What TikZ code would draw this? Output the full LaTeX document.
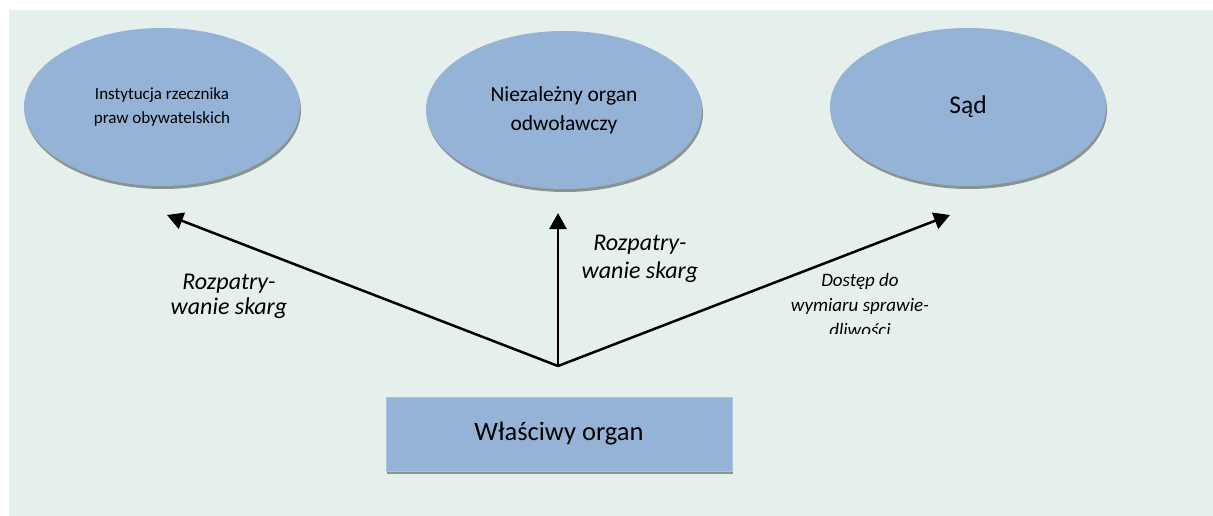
\documentclass[tikz,border=0pt]{standalone}
\usepackage{fontspec}
\setmainfont{Carlito}
\usetikzlibrary{shapes.geometric,arrows.meta,shadows}
\definecolor{tlo}{RGB}{229,239,236}
\definecolor{niebieski}{RGB}{149,179,215}
\definecolor{cien}{RGB}{140,146,142}
\begin{document}
\begin{tikzpicture}[x=1pt,y=-1pt,
    owal/.style={ellipse,fill=niebieski,minimum width=276pt,minimum height=158pt,inner sep=0pt,
        align=center,drop shadow={shadow xshift=1pt,shadow yshift=-3pt,fill=cien,opacity=1}},
    prost/.style={rectangle,fill=niebieski,draw=niebieski!80!white,minimum width=346pt,minimum height=74pt,
        drop shadow={shadow xshift=1pt,shadow yshift=-3pt,fill=cien,opacity=1}},
    strzalka/.style={-{Triangle[length=16pt,width=17pt]},line width=2.5pt},
    opis/.style={align=center,inner sep=0pt,font=\itshape}]
    \useasboundingbox (0,0) rectangle (1213,516);
    \fill[tlo] (9,10) rectangle (1213,516);

    \node (rzecznik) at (162,107) [owal,font=\fontsize{17}{24}\selectfont] {Instytucja rzecznika\\praw obywatelskich};
    \node (odwolawczy) at (564,110) [owal,font=\fontsize{21.5}{29}\selectfont] {Niezależny organ\\odwoławczy};
    \node (sad) at (968,107) [owal,font=\fontsize{25.5}{30}\selectfont] {Sąd};
    \node (wlasciwy) at (559,434) [prost,font=\fontsize{26.5}{30}\selectfont] {Właściwy organ};

    \coordinate (start) at (558,366);
    \coordinate (lewy) at (167,215);
    \coordinate (srodek) at (558,213);
    \coordinate (prawy) at (950,215);

    \draw[strzalka] (start) -- (lewy);
    \draw[strzalka] (start) -- (srodek);
    \draw[strzalka] (start) -- (prawy);

    \node (opis1) at (229,296) [opis,font=\itshape\fontsize{24}{25}\selectfont] {Rozpatry-\\wanie skarg};
    \node (opis2) at (640,259) [opis,font=\itshape\fontsize{24}{28}\selectfont] {Rozpatry-\\wanie skarg};
    \begin{scope}
        \clip (770,262) rectangle (950,333.5);
        \node (opis3) at (860,305) [opis,font=\itshape\fontsize{19}{25}\selectfont] {Dostęp do\\wymiaru sprawie-\\dliwości};
    \end{scope}
\end{tikzpicture}
\end{document}
